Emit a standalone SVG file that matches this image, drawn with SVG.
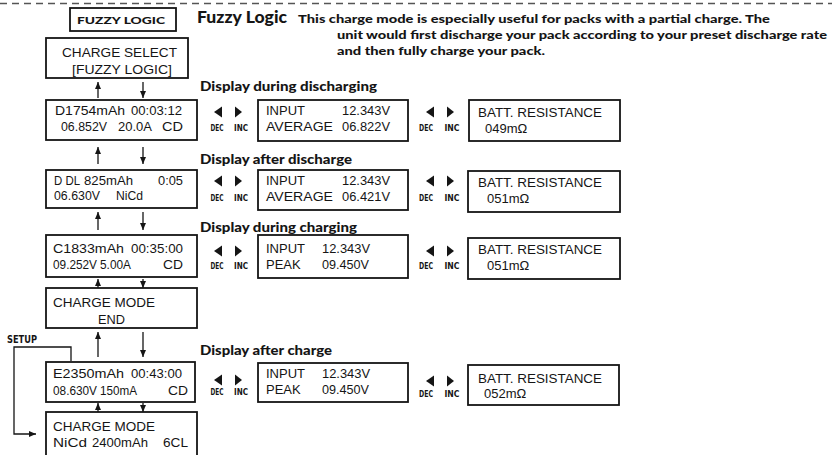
<svg xmlns="http://www.w3.org/2000/svg" width="832" height="455" viewBox="0 0 832 455">
<style>
.box{fill:#fff;stroke:#151515;stroke-width:1.8}
.lcd{font-family:"Liberation Sans",Arial,sans-serif;font-size:13px;fill:#151515}
.hd{font-family:Lato,"DejaVu Sans",sans-serif;font-weight:900;font-size:12.5px;fill:#151515}
.desc{font-family:Lato,"DejaVu Sans",sans-serif;font-weight:900;font-size:11px;fill:#151515}
.key{font-family:"DejaVu Sans Condensed","Liberation Sans Narrow",sans-serif;font-weight:bold;font-size:8.5px;fill:#151515;text-anchor:middle}
.tri{fill:#151515}
.ln{fill:none;stroke:#151515;stroke-width:1.3}
</style>
<defs>
<marker id="ah" markerUnits="userSpaceOnUse" markerWidth="7" markerHeight="6" refX="7" refY="3" orient="auto">
<path d="M0,0 L7,3 L0,6 z" fill="#151515"/>
</marker>
<g id="keyL">
<path class="tri" d="M214,0 L222,-5.5 L222,5.5 z"/>
<path class="tri" d="M235,-5.5 L235,5.5 L242,0 z"/>
</g>
</defs>
<line x1="0" y1="3.5" x2="832" y2="3.5" stroke="#555" stroke-width="1.5" stroke-dasharray="7 5"/>

<g id="title">
<rect class="box" x="70" y="8" width="106" height="23"/>
<text x="77" y="24" font-family="Lato,'DejaVu Sans',sans-serif" font-weight="900" font-size="10" textLength="88" lengthAdjust="spacingAndGlyphs" fill="#151515">FUZZY LOGIC</text>
<text x="197" y="23" font-family="Lato,'DejaVu Sans',sans-serif" font-weight="900" font-size="16" textLength="90" lengthAdjust="spacingAndGlyphs" fill="#151515">Fuzzy Logic</text>
<text class="desc" x="298" y="23" textLength="472" lengthAdjust="spacingAndGlyphs">This charge mode is especially useful for packs with a partial charge.  The</text>
<text class="desc" x="337" y="39" textLength="490" lengthAdjust="spacingAndGlyphs">unit would first discharge your pack according to your preset discharge rate</text>
<text class="desc" x="337" y="55" textLength="208" lengthAdjust="spacingAndGlyphs">and then fully charge your pack.</text>
</g>

<g id="headings">
<text class="hd" x="200" y="91" textLength="177" lengthAdjust="spacingAndGlyphs">Display during discharging</text>
<text class="hd" x="200" y="164" textLength="152" lengthAdjust="spacingAndGlyphs">Display after discharge</text>
<text class="hd" x="200" y="232" textLength="157" lengthAdjust="spacingAndGlyphs">Display during charging</text>
<text class="hd" x="200" y="355" textLength="132" lengthAdjust="spacingAndGlyphs">Display after charge</text>
<text x="7" y="343" font-family="'Liberation Sans Narrow','DejaVu Sans Condensed',sans-serif" font-weight="bold" font-size="10" textLength="30" lengthAdjust="spacingAndGlyphs" fill="#151515">SETUP</text>
</g>

<g id="charge-select">
<rect class="box" x="46" y="38" width="142" height="40"/>
<text class="lcd" x="62" y="57" font-size="13.5" textLength="115" lengthAdjust="spacingAndGlyphs">CHARGE SELECT</text>
<text class="lcd" x="72" y="74" font-size="13.5" textLength="100" lengthAdjust="spacingAndGlyphs">[FUZZY LOGIC]</text>
</g>

<g id="discharging">
<rect class="box" x="46" y="100" width="151" height="40"/>
<text class="lcd" x="55" y="115" textLength="70" lengthAdjust="spacingAndGlyphs">D1754mAh</text><text class="lcd" x="131" y="115" textLength="51" lengthAdjust="spacingAndGlyphs">00:03:12</text>
<text class="lcd" x="61" y="131" textLength="46" lengthAdjust="spacingAndGlyphs">06.852V</text><text class="lcd" x="118" y="131" textLength="34" lengthAdjust="spacingAndGlyphs">20.0A</text><text class="lcd" x="162" y="131" textLength="21" lengthAdjust="spacingAndGlyphs">CD</text>
</g>
<g id="discharging-input">
<rect class="box" x="258" y="100" width="150" height="41"/>
<text class="lcd" x="266" y="115" textLength="39" lengthAdjust="spacingAndGlyphs">INPUT</text><text class="lcd" x="342" y="115" textLength="48" lengthAdjust="spacingAndGlyphs">12.343V</text>
<text class="lcd" x="266" y="131" textLength="67" lengthAdjust="spacingAndGlyphs">AVERAGE</text><text class="lcd" x="342" y="131" textLength="48" lengthAdjust="spacingAndGlyphs">06.822V</text>
</g>
<g id="discharging-res">
<rect class="box" x="469" y="100" width="151" height="41"/>
<text class="lcd" x="478" y="117" textLength="124" lengthAdjust="spacingAndGlyphs">BATT. RESISTANCE</text>
<text class="lcd" x="485" y="133">049mΩ</text>
</g>

<g id="after-discharge">
<rect class="box" x="46" y="170" width="151" height="38"/>
<text class="lcd" x="54" y="185" textLength="26" lengthAdjust="spacingAndGlyphs">D DL</text><text class="lcd" x="84" y="185" textLength="49" lengthAdjust="spacingAndGlyphs">825mAh</text><text class="lcd" x="158" y="185" textLength="25" lengthAdjust="spacingAndGlyphs">0:05</text>
<text class="lcd" x="54" y="200" textLength="46" lengthAdjust="spacingAndGlyphs">06.630V</text><text class="lcd" x="116" y="200" textLength="27" lengthAdjust="spacingAndGlyphs">NiCd</text>
</g>
<g id="after-discharge-input">
<rect class="box" x="258" y="170" width="150" height="40"/>
<text class="lcd" x="266" y="185" textLength="39" lengthAdjust="spacingAndGlyphs">INPUT</text><text class="lcd" x="342" y="185" textLength="48" lengthAdjust="spacingAndGlyphs">12.343V</text>
<text class="lcd" x="266" y="201" textLength="67" lengthAdjust="spacingAndGlyphs">AVERAGE</text><text class="lcd" x="342" y="201" textLength="48" lengthAdjust="spacingAndGlyphs">06.421V</text>
</g>
<g id="after-discharge-res">
<rect class="box" x="468" y="171" width="152" height="41"/>
<text class="lcd" x="478" y="187" textLength="124" lengthAdjust="spacingAndGlyphs">BATT. RESISTANCE</text>
<text class="lcd" x="487" y="203">051mΩ</text>
</g>

<g id="charging">
<rect class="box" x="46" y="235" width="151" height="42"/>
<text class="lcd" x="53" y="253" textLength="71" lengthAdjust="spacingAndGlyphs">C1833mAh</text><text class="lcd" x="131" y="253" textLength="52" lengthAdjust="spacingAndGlyphs">00:35:00</text>
<text class="lcd" x="53" y="269" textLength="44" lengthAdjust="spacingAndGlyphs">09.252V</text><text class="lcd" x="100" y="269" textLength="31" lengthAdjust="spacingAndGlyphs">5.00A</text><text class="lcd" x="163" y="269" textLength="20" lengthAdjust="spacingAndGlyphs">CD</text>
</g>
<g id="charging-input">
<rect class="box" x="258" y="235" width="150" height="43"/>
<text class="lcd" x="266" y="253" textLength="39" lengthAdjust="spacingAndGlyphs">INPUT</text><text class="lcd" x="322" y="253" textLength="48" lengthAdjust="spacingAndGlyphs">12.343V</text>
<text class="lcd" x="266" y="269">PEAK</text><text class="lcd" x="322" y="269" textLength="47" lengthAdjust="spacingAndGlyphs">09.450V</text>
</g>
<g id="charging-res">
<rect class="box" x="468" y="238" width="152" height="41"/>
<text class="lcd" x="478" y="254" textLength="124" lengthAdjust="spacingAndGlyphs">BATT. RESISTANCE</text>
<text class="lcd" x="487" y="270">051mΩ</text>
</g>

<g id="charge-end">
<rect class="box" x="46" y="288" width="151" height="40"/>
<text class="lcd" x="53" y="307" textLength="102" lengthAdjust="spacingAndGlyphs">CHARGE MODE</text>
<text class="lcd" x="98" y="324" textLength="27" lengthAdjust="spacingAndGlyphs">END</text>
</g>

<g id="after-charge">
<rect class="box" x="46" y="362" width="149" height="40"/>
<text class="lcd" x="53" y="378" textLength="71" lengthAdjust="spacingAndGlyphs">E2350mAh</text><text class="lcd" x="131" y="378" textLength="51" lengthAdjust="spacingAndGlyphs">00:43:00</text>
<text class="lcd" x="53" y="395" textLength="44" lengthAdjust="spacingAndGlyphs">08.630V</text><text class="lcd" x="100" y="395" textLength="37" lengthAdjust="spacingAndGlyphs">150mA</text><text class="lcd" x="168" y="395" textLength="20" lengthAdjust="spacingAndGlyphs">CD</text>
</g>
<g id="after-charge-input">
<rect class="box" x="258" y="363" width="150" height="39"/>
<text class="lcd" x="266" y="378" textLength="39" lengthAdjust="spacingAndGlyphs">INPUT</text><text class="lcd" x="322" y="378" textLength="48" lengthAdjust="spacingAndGlyphs">12.343V</text>
<text class="lcd" x="266" y="394">PEAK</text><text class="lcd" x="322" y="394" textLength="47" lengthAdjust="spacingAndGlyphs">09.450V</text>
</g>
<g id="after-charge-res">
<rect class="box" x="468" y="365" width="151" height="40"/>
<text class="lcd" x="478" y="383" textLength="124" lengthAdjust="spacingAndGlyphs">BATT. RESISTANCE</text>
<text class="lcd" x="484" y="398">052mΩ</text>
</g>

<g id="charge-mode">
<rect class="box" x="46" y="412" width="151" height="50"/>
<text class="lcd" x="53" y="431" textLength="102" lengthAdjust="spacingAndGlyphs">CHARGE MODE</text>
<text class="lcd" x="53" y="447" textLength="34" lengthAdjust="spacingAndGlyphs">NiCd</text><text class="lcd" x="92" y="447" textLength="56" lengthAdjust="spacingAndGlyphs">2400mAh</text><text class="lcd" x="163" y="447" textLength="25" lengthAdjust="spacingAndGlyphs">6CL</text>
</g>

<g id="keys">
<use href="#keyL" transform="translate(0,112)"/>
<use href="#keyL" transform="translate(212,112)"/>
<use href="#keyL" transform="translate(0,181)"/>
<use href="#keyL" transform="translate(212,181)"/>
<use href="#keyL" transform="translate(0,251)"/>
<use href="#keyL" transform="translate(212,251)"/>
<use href="#keyL" transform="translate(0,380)"/>
<use href="#keyL" transform="translate(212,381)"/>
<text class="key" x="217" y="131" textLength="13" lengthAdjust="spacingAndGlyphs">DEC</text><text class="key" x="241" y="131" textLength="14" lengthAdjust="spacingAndGlyphs">INC</text>
<text class="key" x="426" y="131" textLength="14" lengthAdjust="spacingAndGlyphs">DEC</text><text class="key" x="452" y="131" textLength="15" lengthAdjust="spacingAndGlyphs">INC</text>
<text class="key" x="217" y="201" textLength="13" lengthAdjust="spacingAndGlyphs">DEC</text><text class="key" x="241" y="201" textLength="14" lengthAdjust="spacingAndGlyphs">INC</text>
<text class="key" x="426" y="201" textLength="14" lengthAdjust="spacingAndGlyphs">DEC</text><text class="key" x="452" y="201" textLength="15" lengthAdjust="spacingAndGlyphs">INC</text>
<text class="key" x="217" y="269" textLength="13" lengthAdjust="spacingAndGlyphs">DEC</text><text class="key" x="241" y="269" textLength="14" lengthAdjust="spacingAndGlyphs">INC</text>
<text class="key" x="426" y="269" textLength="14" lengthAdjust="spacingAndGlyphs">DEC</text><text class="key" x="452" y="269" textLength="15" lengthAdjust="spacingAndGlyphs">INC</text>
<text class="key" x="217" y="395" textLength="13" lengthAdjust="spacingAndGlyphs">DEC</text><text class="key" x="241" y="395" textLength="14" lengthAdjust="spacingAndGlyphs">INC</text>
<text class="key" x="426" y="397" textLength="14" lengthAdjust="spacingAndGlyphs">DEC</text><text class="key" x="452" y="397" textLength="15" lengthAdjust="spacingAndGlyphs">INC</text>
</g>

<g id="connectors">
<line class="ln" x1="98" y1="98" x2="98" y2="82" marker-end="url(#ah)"/>
<line class="ln" x1="143" y1="82" x2="143" y2="98" marker-end="url(#ah)"/>
<line class="ln" x1="98" y1="164" x2="98" y2="147" marker-end="url(#ah)"/>
<line class="ln" x1="143" y1="147" x2="143" y2="164" marker-end="url(#ah)"/>
<line class="ln" x1="98" y1="230" x2="98" y2="212" marker-end="url(#ah)"/>
<line class="ln" x1="143" y1="212" x2="143" y2="230" marker-end="url(#ah)"/>
<line class="ln" x1="98" y1="288" x2="98" y2="279" marker-end="url(#ah)"/>
<line class="ln" x1="143" y1="279" x2="143" y2="288" marker-end="url(#ah)"/>
<line class="ln" x1="98" y1="357" x2="98" y2="332" marker-end="url(#ah)"/>
<line class="ln" x1="143" y1="332" x2="143" y2="357" marker-end="url(#ah)"/>
<line class="ln" x1="98" y1="412" x2="98" y2="403" marker-end="url(#ah)"/>
<line class="ln" x1="143" y1="403" x2="143" y2="412" marker-end="url(#ah)"/>
<polyline class="ln" points="71,361 71,347 14,347 14,434 36,434" marker-end="url(#ah)"/>
</g>
</svg>
